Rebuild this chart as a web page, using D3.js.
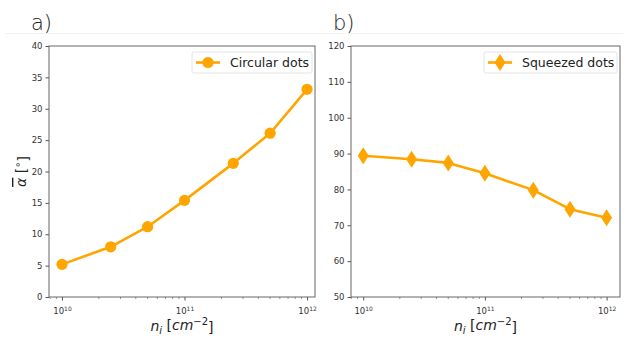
<!DOCTYPE html>
<html>
<head>
<meta charset="utf-8">
<script src="https://cdn.jsdelivr.net/npm/d3@7"></script>
<style>
  body { margin: 0; background: #fff; }
  svg { display: block; }
  text { font-family: "DejaVu Sans", sans-serif; }
</style>
</head>
<body>
<svg id="chart" width="628" height="338"></svg>
<script>
// data
const density = [1e10, 2.5e10, 5e10, 1e11, 2.5e11, 5e11, 1e12];
const circular = [5.2, 8.0, 11.2, 15.4, 21.3, 26.1, 33.1];
const squeezed = [89.4, 88.4, 87.4, 84.5, 79.8, 74.5, 72.1];
const leftTicks = [0, 5, 10, 15, 20, 25, 30, 35, 40];
const rightTicks = [50, 60, 70, 80, 90, 100, 110, 120];
const xTicks = [1e10, 1e11, 1e12];

const ORANGE = '#ffa500';
const svg = d3.select('#chart');

// faint separator line under the panel letters
svg.append('line')
    .attr('x1', 5).attr('x2', 623).attr('y1', 33.5).attr('y2', 33.5)
    .style('stroke', '#f2f2f2').style('stroke-width', 1);

function minorTicks() {
    const out = [];
    for (let e = 9; e <= 12; e++) {
        for (let m = 2; m <= 9; m++) out.push(m * Math.pow(10, e));
    }
    return out;
}

function drawPanel(opts) {
    const { left, right, top, bottom, xDomain, yDomain, yTicks, values,
            letter, legend, marker, showYLabel } = opts;

    const x = d3.scaleLog().domain(xDomain).range([left, right]);
    const y = d3.scaleLinear().domain(yDomain).range([bottom, top]);
    const g = svg.append('g');

    // panel letter
    g.append('text')
        .attr('x', left - 18).attr('y', 30)
        .style('font-family', '"DejaVu Sans", sans-serif')
        .style('font-size', '21px').style('font-weight', '300')
        .style('fill', '#222')
        .text(letter);

    // y axis
    const yAxis = g.append('g')
        .attr('transform', `translate(${left},0)`)
        .call(d3.axisLeft(y).tickValues(yTicks).tickSize(3.5).tickPadding(3));
    yAxis.select('.domain').remove();
    yAxis.selectAll('line').style('stroke', '#555');
    yAxis.selectAll('text').style('font-size', '8.5px').style('fill', '#333');

    // x axis major ticks
    const xAxis = g.append('g')
        .attr('transform', `translate(0,${bottom})`)
        .call(d3.axisBottom(x).tickValues(xTicks).tickSize(3.5).tickPadding(4).tickFormat(() => ''));
    xAxis.select('.domain').remove();
    xAxis.selectAll('line').style('stroke', '#555');
    xAxis.selectAll('.tick text').each(function(d) {
        const t = d3.select(this)
            .style('font-size', '8.5px').style('fill', '#333')
            .attr('dy', '1.1em');
        t.append('tspan').text('10');
        t.append('tspan').attr('dy', '-0.4em').style('font-size', '6px')
            .text(Math.round(Math.log10(d)));
    });

    // minor ticks
    const minor = minorTicks().filter(v => v > xDomain[0] && v < xDomain[1]);
    g.append('g').selectAll('line').data(minor).join('line')
        .attr('x1', d => x(d)).attr('x2', d => x(d))
        .attr('y1', bottom).attr('y2', bottom + 2)
        .style('stroke', '#666').style('stroke-width', 0.7);

    // frame
    g.append('rect')
        .attr('x', left).attr('y', top)
        .attr('width', right - left).attr('height', bottom - top)
        .style('fill', 'none').style('stroke', '#666').style('stroke-width', 1);

    // series line
    const line = d3.line().x((d, i) => x(density[i])).y(d => y(d));
    g.append('path').datum(values)
        .attr('d', line)
        .style('fill', 'none').style('stroke', ORANGE)
        .style('stroke-width', 2.6).style('stroke-linejoin', 'round');

    // markers
    const diamond = (cx, cy) => `M${cx},${cy - 8.5}L${cx + 5.5},${cy}L${cx},${cy + 8.5}L${cx - 5.5},${cy}Z`;
    if (marker === 'circle') {
        g.append('g').selectAll('circle').data(values).join('circle')
            .attr('cx', (d, i) => x(density[i])).attr('cy', d => y(d))
            .attr('r', 5.6).style('fill', ORANGE);
    } else {
        g.append('g').selectAll('path').data(values).join('path')
            .attr('d', (d, i) => diamond(x(density[i]), y(d)))
            .style('fill', ORANGE);
    }

    // legend
    const lw = legend.width;
    const lx = right - 3 - lw, ly = top + 6;
    g.append('rect')
        .attr('x', lx).attr('y', ly).attr('width', lw).attr('height', 21).attr('rx', 2)
        .style('fill', '#fff').style('stroke', '#ddd').style('stroke-width', 0.8);
    g.append('line')
        .attr('x1', lx + 4).attr('x2', lx + 28).attr('y1', ly + 10.5).attr('y2', ly + 10.5)
        .style('stroke', ORANGE).style('stroke-width', 2.6);
    if (marker === 'circle') {
        g.append('circle').attr('cx', lx + 16).attr('cy', ly + 10.5).attr('r', 5.6).style('fill', ORANGE);
    } else {
        g.append('path').attr('d', diamond(lx + 16, ly + 10.5)).style('fill', ORANGE);
    }
    g.append('text')
        .attr('x', lx + 38).attr('y', ly + 15)
        .style('font-size', '12.5px').style('fill', '#222')
        .text(legend.label);

    // x label: n_i [cm^-2]
    const xl = g.append('text')
        .attr('x', (left + right) / 2).attr('y', 331)
        .attr('text-anchor', 'middle')
        .style('font-size', '14px').style('fill', '#222');
    xl.append('tspan').style('font-style', 'italic').text('n');
    xl.append('tspan').style('font-style', 'italic').style('font-size', '10px').attr('dy', '0.25em').text('i');
    xl.append('tspan').attr('dy', '-0.25em').text(' [');
    xl.append('tspan').style('font-style', 'italic').text('cm');
    xl.append('tspan').style('font-size', '10px').attr('dy', '-0.5em').text('−2');
    xl.append('tspan').attr('dy', '0.5em').text(']');

    if (showYLabel) {
        const yl = g.append('text')
            .attr('transform', `translate(26,${(top + bottom) / 2}) rotate(-90)`)
            .attr('text-anchor', 'middle')
            .style('font-size', '14px').style('fill', '#222');
        yl.append('tspan').style('font-style', 'italic').style('text-decoration', 'overline').text('α');
        yl.append('tspan').text(' [');
        yl.append('tspan').style('font-size', '10px').attr('dy', '-0.5em').text('∘');
        yl.append('tspan').attr('dy', '0.5em').text(']');
    }
}

drawPanel({
    left: 49, right: 315, top: 46, bottom: 297,
    xDomain: [Math.pow(10, 9.894), Math.pow(10, 12.065)],
    yDomain: [0, 40], yTicks: leftTicks, values: circular,
    letter: 'a)', legend: { label: 'Circular dots', width: 120 },
    marker: 'circle', showYLabel: true
});

drawPanel({
    left: 351, right: 620, top: 46, bottom: 297,
    xDomain: [Math.pow(10, 9.9), Math.pow(10, 12.11)],
    yDomain: [50, 120], yTicks: rightTicks, values: squeezed,
    letter: 'b)', legend: { label: 'Squeezed dots', width: 133 },
    marker: 'diamond', showYLabel: false
});
</script>
</body>
</html>
